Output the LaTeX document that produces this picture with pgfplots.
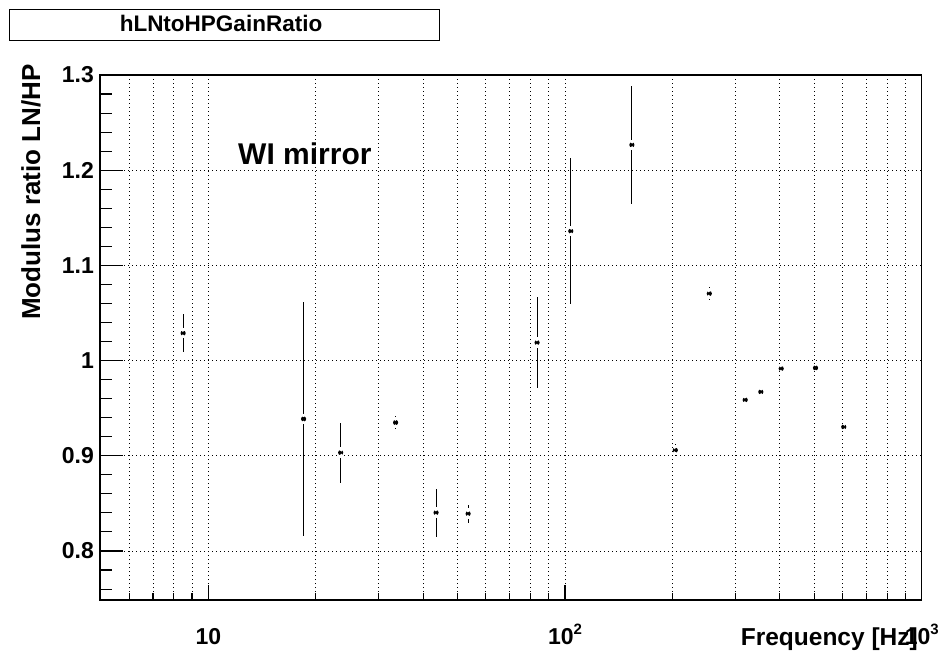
\documentclass[border=0pt]{standalone}
\usepackage{fontspec}
\setmainfont{Liberation Sans}
\usepackage{pgfplots}
\usepackage{pgfplotstable}
\pgfplotsset{compat=1.18}

\pgfplotstableread{
x y e
8.5 1.0288 0.0197
18.5 0.9387 0.1227
23.5 0.9033 0.0316
33.5 0.9349 0.0068
43.5 0.8403 0.0252
53.5 0.8392 0.0093
83.5 1.0189 0.0475
103.8 1.1360 0.0766
154 1.2266 0.0618
203.8 0.9059 0.0062
253.8 1.0704 0.0072
320 0.9587 0.002
354 0.9671 0.002
403.7 0.9916 0.002
503.8 0.9923 0.002
604.6 0.9303 0.002
}\datatable

\begin{document}
\begin{tikzpicture}
\useasboundingbox (0,0) rectangle (944pt,656pt);
% main axis: grid, y ticks, data
\begin{axis}[
  at={(100pt,56pt)}, anchor=south west,
  scale only axis, width=821.7pt, height=525pt,
  xmode=log, xmin=4.97, xmax=1000,
  ymin=0.7485, ymax=1.3,
  tick pos=left, tick align=inside,
  major tick length=23pt, minor tick length=12pt,
  xtick={10,100,1000},
  minor xtick={6,7,8,9,20,30,40,50,60,70,80,90,200,300,400,500,600,700,800,900},
  xticklabels={},
  xtick style={draw=none},
  ytick={0.8,0.9,1.0,1.1,1.2,1.3},
  yticklabels={\bfseries 0.8,\bfseries 0.9,\bfseries 1,\bfseries 1.1,\bfseries 1.2,\bfseries 1.3},
  minor ytick={0.76,0.78,0.82,0.84,0.86,0.88,0.92,0.94,0.96,0.98,1.02,1.04,1.06,1.08,1.12,1.14,1.16,1.18,1.22,1.24,1.26,1.28},
  yticklabel style={anchor=east, inner sep=0pt, xshift=-6pt, font=\fontsize{23}{23}\selectfont},
  ytick style={line width=1.1pt, black},
  xmajorgrids, xminorgrids, ymajorgrids,
  grid style={black, line width=0.9pt, dash pattern=on 1pt off 3pt},
  minor grid style={black, line width=0.9pt, dash pattern=on 1pt off 3pt},
  axis line style={line width=1.3pt},
  clip=false,
]
\addplot[black, line width=1.1pt, only marks, mark=none,
  error bars/.cd, y dir=both, y explicit, error mark=none,
  error bar style={line width=1.1pt}]
  table[x=x, y=y, y error=e] {\datatable};
\addplot[white, only marks, mark=|, mark size=5.3pt, line width=1.8pt]
  table[x=x, y=y] {\datatable};
\addplot[black, only marks, mark=*, mark size=1.6pt, mark options={draw=none, fill=black}]
  table[x=x, y=y] {\datatable};
\end{axis}
% overlay axis: x ticks and labels
\begin{axis}[
  at={(100pt,56pt)}, anchor=south west,
  scale only axis, width=821.7pt, height=525pt,
  xmode=log, xmin=4.97, xmax=1000,
  ymin=0.7485, ymax=1.3,
  hide y axis,
  axis line style={draw=none},
  tick pos=left, tick align=inside,
  major tick length=15pt, minor tick length=7.5pt,
  xtick={10,100,1000},
  minor xtick={6,7,8,9,20,30,40,50,60,70,80,90,200,300,400,500,600,700,800,900},
  xtick style={line width=1.1pt, black},
  xticklabels={{\bfseries 10},{\bfseries 10\raisebox{0.75ex}{\fontsize{15}{15}\selectfont 2}},{\bfseries 10\raisebox{0.75ex}{\fontsize{15}{15}\selectfont 3}}},
  xticklabel style={anchor=base, yshift=-44pt, font=\fontsize{23}{23}\selectfont},
]
\end{axis}
% title box
\draw[line width=1pt] (9pt,615.3pt) rectangle (439pt,646pt);
\node[anchor=base, inner sep=0pt, font=\fontsize{22.5}{22.5}\selectfont\bfseries] at (221pt,624pt) {hLNtoHPGainRatio};
% axis titles
\node[rotate=90, anchor=east, inner sep=0pt, font=\fontsize{26}{26}\selectfont\bfseries] at (31pt,592pt) {Modulus ratio LN/HP};
\node[anchor=base east, inner sep=0pt, font=\fontsize{24.5}{24.5}\selectfont\bfseries] at (918pt,11pt) {Frequency [Hz]};
% annotation
\node[anchor=base west, inner sep=0pt, font=\fontsize{30}{30}\selectfont\bfseries] at (238pt,491pt) {WI mirror};
\end{tikzpicture}
\end{document}
